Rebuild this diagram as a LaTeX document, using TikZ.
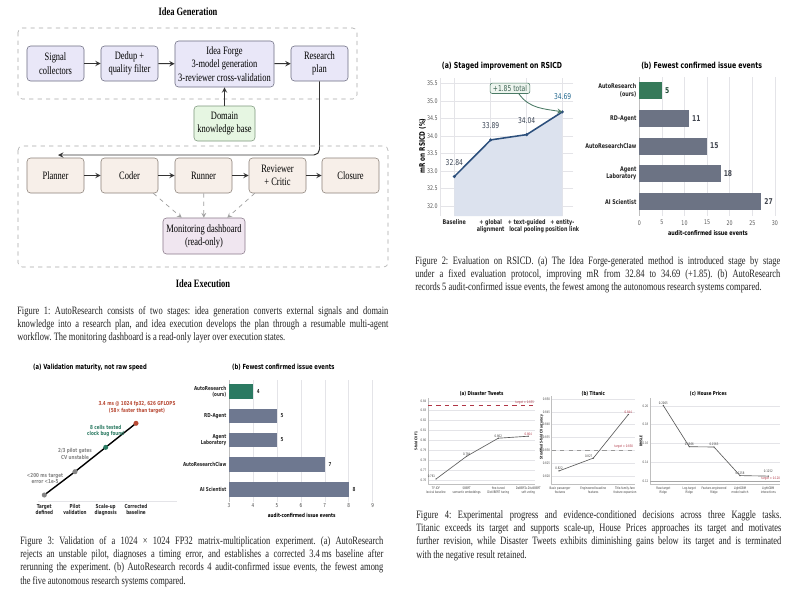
\documentclass[tikz,border=0pt]{standalone}
\usepackage{fontspec}
\setmainfont{Liberation Serif}
\newfontfamily\serifc[FakeStretch=0.75]{Liberation Serif}
\newfontfamily\sansc[FakeStretch=0.75]{DejaVu Sans}
\newcommand\nodefnt{\serifc\fontsize{8}{9.5}\selectfont}
\newcommand\headfnt{\serifc\bfseries\fontsize{8}{9.5}\selectfont}
\newcommand\capfnt{\serifc\fontsize{8}{9.5}\selectfont\frenchspacing}
\newcommand\ttlfnt{\sansc\bfseries\fontsize{5.9}{7}\selectfont}
\newcommand\ttlfntb{\sansc\bfseries\fontsize{5}{6}\selectfont}
\newcommand\ttlfntc{\sansc\bfseries\fontsize{3.8}{4.5}\selectfont}
\newcommand\tickfnt{\sansc\fontsize{4.5}{5.2}\selectfont}
\newcommand\labfnt{\sansc\bfseries\fontsize{4.6}{5.4}\selectfont}
\newcommand\valfnt{\sansc\fontsize{5.7}{6.5}\selectfont}
\newcommand\smlfnt{\sansc\bfseries\fontsize{3.9}{4.6}\selectfont}
\newcommand\tinyfnt{\sansc\fontsize{2.4}{2.9}\selectfont}
\newcommand\tinybfnt{\sansc\bfseries\fontsize{2.6}{3.1}\selectfont}
\definecolor{genfill}{HTML}{E9E7F8}
\definecolor{genedge}{HTML}{6E6E82}
\definecolor{kbfill}{HTML}{E6F6E2}
\definecolor{kbedge}{HTML}{7E987E}
\definecolor{exfill}{HTML}{F7EFE9}
\definecolor{exedge}{HTML}{8C827A}
\definecolor{monfill}{HTML}{F0E6F0}
\definecolor{monedge}{HTML}{8A7A8A}
\definecolor{stagegray}{HTML}{A8A8A8}
\definecolor{flowgray}{HTML}{333333}
\definecolor{gridgray}{HTML}{E4E4E8}
\definecolor{rsblue}{HTML}{2C4F7C}
\definecolor{rsfill}{HTML}{DCE2EE}
\definecolor{slate}{HTML}{3C4656}
\definecolor{annog}{HTML}{4A7A65}
\definecolor{annofill}{HTML}{EEF5EF}
\definecolor{barours}{HTML}{367A5A}
\definecolor{barrest}{HTML}{6C7384}
\definecolor{oursb}{HTML}{2B7A62}
\definecolor{restb}{HTML}{6E7890}
\definecolor{stepgray}{HTML}{858585}
\definecolor{stepred}{HTML}{B84A35}
\definecolor{tgtred}{HTML}{B03545}
\definecolor{capink}{HTML}{222222}
\begin{document}
\begin{tikzpicture}[x=0.025cm, y=-0.025cm, line join=round, >=stealth,
  gen/.style={draw=genedge, fill=genfill, rounded corners=2.5pt, align=center, inner sep=1pt,
    minimum width=1.425cm, minimum height=0.875cm, font=\nodefnt},
  kb/.style={gen, draw=kbedge, fill=kbfill, minimum width=1.525cm},
  exe/.style={gen, draw=exedge, fill=exfill},
  mon/.style={gen, draw=monedge, fill=monfill, minimum width=2.05cm, minimum height=0.9cm},
  stage/.style={draw=stagegray, dashed, rounded corners=3pt, line width=0.4pt},
  flow/.style={->, draw=flowgray, line width=0.7pt},
  watch/.style={->, draw=gray!75, dashed, line width=0.5pt},
  grid/.style={draw=gridgray, line width=0.4pt},
  figcap/.style={anchor=north west, inner sep=0pt, align=justify, font=\capfnt, text=capink},
  tick/.style={font=\tickfnt, text=black!65, inner sep=1.5pt},
  xlab/.style={font=\labfnt, align=center, anchor=north, inner sep=0pt, text=black!85},
  tick4/.style={font=\tinyfnt, text=black!70, inner sep=1pt},
  xlab4/.style={font=\tinyfnt, align=center, anchor=north, inner sep=0pt, text=black!75},
  val4/.style={font=\tinyfnt, text=black!75, inner sep=0.5pt},
  line4/.style={draw=black!65, line width=0.45pt},
  spine/.style={draw=black!25, line width=0.35pt}]
\useasboundingbox[fill=white] (0,0) rectangle (800,600);

\node[font=\headfnt] (gentitle) at (188,12) {Idea Generation};
\draw[stage] (18,28) rectangle (357,99);
\node[gen] (sig) at (55.5,63.5) {Signal\\collectors};
\node[gen] (ded) at (129.5,63.5) {Dedup +\\quality filter};
\node[gen, minimum width=2.475cm, minimum height=1.15cm] (forge) at (224.5,64) {Idea Forge\\3-model generation\\3-reviewer cross-validation};
\node[gen] (plan) at (319.5,63.5) {Research\\plan};
\node[kb] (kb) at (224.5,123.5) {Domain\\knowledge base};
\draw[flow] (sig) -- (ded);
\draw[flow] (ded) -- (forge);
\draw[flow] (forge) -- (plan);
\draw[flow] (kb) -- (forge);
\coordinate (back) at (58,155);
\draw[flow, rounded corners=4pt] (plan) |- (back);
\draw[stage] (18,146) rectangle (388,267);
\node[exe] (pla) at (55.5,175.5) {Planner};
\node[exe] (cod) at (129.5,175.5) {Coder};
\node[exe] (run) at (203.5,175.5) {Runner};
\node[exe] (rev) at (277.5,175.5) {Reviewer\\+ Critic};
\node[exe] (clo) at (350.5,175.5) {Closure};
\node[mon] (mon) at (204,236) {Monitoring dashboard\\(read-only)};
\draw[flow] (pla) -- (cod);
\draw[flow] (cod) -- (run);
\draw[flow] (run) -- (rev);
\draw[flow] (rev) -- (clo);
\draw[watch] ([xshift=-3.5pt]cod.south east) -- ([xshift=13.5pt]mon.north west);
\draw[watch] (run) -- (mon);
\draw[watch] ([xshift=4.3pt]rev.south west) -- ([xshift=-12.8pt]mon.north east);
\node[font=\headfnt] (exetitle) at (203,284) {Idea Execution};
\node[figcap, text width=9.275cm] (cap1) at (17,306) {Figure 1: AutoResearch consists of two stages: idea generation converts external signals and domain\linebreak knowledge into a research plan, and idea execution develops the plan through a resumable multi-agent\linebreak workflow. The monitoring dashboard is a read-only layer over execution states.};

\node[font=\ttlfnt] (t2a) at (502,66) {(a) Staged improvement on RSICD};
\foreach \v in {32.0,32.5,33.0,33.5,34.0,34.5,35.0,35.5}
  \draw[grid] (573,{101-(\v-35)*35}) -- (440,{101-(\v-35)*35}) node[tick, left] {\v};
\foreach \x in {440,454.3,490.7,526.7,562.3}
  \draw[grid] (\x,78) -- (\x,216);
\fill[rsfill] (454.3,216) -- (454.3,176.6) -- (490.7,139.9) -- (526.7,134.6) -- (562.3,111.9) -- (562.3,216) -- cycle;
\draw[rsblue, line width=1.1pt] (454.3,176.6) coordinate (p1) -- (490.7,139.9) coordinate (p2)
  -- (526.7,134.6) coordinate (p3) -- (562.3,111.9) coordinate (p4);
\foreach \p in {p1,p2,p3,p4} \fill[rsblue] (\p) circle (1.2pt);
\node[font=\valfnt, text=slate] (v1) at (454.3,162.7) {32.84};
\node[font=\valfnt, text=slate] (v2) at (490.7,126) {33.89};
\node[font=\valfnt, text=slate] (v3) at (526.7,121) {34.04};
\node[font=\valfnt, text=rsblue!85!cyan] (v4) at (562.7,96.7) {34.69};
\node[draw=annog, fill=annofill, rounded corners=1.5pt, font=\valfnt, text=annog!80!black,
  inner xsep=2pt, inner ysep=1.5pt] (tot) at (510,88.3) {+1.85 total};
\draw[->, annog, line width=0.6pt] ([xshift=-8pt]tot.south east) to[out=-55, in=170] (p4);
\node[font=\sansc\bfseries\fontsize{5.4}{6}\selectfont, rotate=90] (ylab2) at (422.5,146) {mR on RSICD (\%)};
\node[xlab] (x1) at (454.3,219) {Baseline};
\node[xlab] (x2) at (490.7,219) {+ global\\alignment};
\node[xlab] (x3) at (526.7,219) {+ text-guided\\local pooling};
\node[xlab] (x4) at (562.3,219) {+ entity-\\position link};

\node[font=\ttlfnt] (t2b) at (701.7,66) {(b) Fewest confirmed issue events};
\foreach \v in {0,5,...,30} {
  \draw[grid] ({639.3+4.52*\v},77) -- ({639.3+4.52*\v},216);
  \node[tick] at ({639.3+4.52*\v},222.7) {\v};
}
\draw[draw=black!25, line width=0.4pt] (639.3,77) -- (639.3,216);
\foreach \y/\v/\c/\t in {90.7/5/barours/{AutoResearch\\(ours)}, 118.7/11/barrest/RD-Agent,
    146/15/barrest/AutoResearchClaw, 173.3/18/barrest/{Agent\\Laboratory}, 201.7/27/barrest/AI Scientist} {
  \fill[\c] (639.3,{\y-8.5}) rectangle ({639.3+4.52*\v},{\y+8.5});
  \node[font=\valfnt\bfseries, text=\c!60!black, anchor=west, inner sep=2pt] at ({639.3+4.52*\v},\y) {\v};
  \node[font=\labfnt, align=right, anchor=east, inner sep=1pt, text=black!85] at (638,\y) {\t};
}
\node[font=\labfnt] (xl2b) at (708,232.7) {audit-confirmed issue events};
\node[figcap, text width=9.125cm] (cap2) at (415,256) {Figure 2: Evaluation on RSICD. (a) The Idea Forge-generated method is introduced stage by stage\linebreak under a fixed evaluation protocol, improving mR from 32.84 to 34.69 (+1.85). (b) AutoResearch\linebreak records 5 audit-confirmed issue events, the fewest among the autonomous research systems compared.};

\node[font=\ttlfntb] (t3a) at (90,367.3) {(a) Validation maturity, not raw speed};
\draw[grid] (38,501.7) -- (177,501.7);
\draw[black, line width=1pt] (44.3,495) coordinate (s1) -- (75,471.7) coordinate (s2)
  -- (105.7,447.3) coordinate (s3) -- (136,423.3) coordinate (s4);
\fill[stepgray] (s1) circle (1.8pt);
\fill[stepgray] (s2) circle (1.8pt);
\fill[oursb] (s3) circle (1.8pt);
\fill[stepred] (s4) circle (1.8pt);
\node[font=\smlfnt, text=stepgray, align=center] (n1) at (45,478.5) {<200 ms target\\error <1e-5};
\node[font=\smlfnt, text=stepgray, align=center] (n2) at (75,454) {2/3 pilot gates\\CV unstable};
\node[font=\smlfnt, text=oursb, align=center] (n3) at (105.7,430.8) {8 cells tested\\clock bug found};
\node[font=\smlfnt, text=stepred, align=center] (n4) at (137,407.5) {3.4 ms @ 1024 fp32, 626 GFLOPS\\(58× faster than target)};
\node[xlab, font=\smlfnt] (a1) at (44.3,504) {Target\\defined};
\node[xlab, font=\smlfnt] (a2) at (75,504) {Pilot\\validation};
\node[xlab, font=\smlfnt] (a3) at (105.7,504) {Scale-up\\diagnosis};
\node[xlab, font=\smlfnt] (a4) at (136,504) {Corrected\\baseline};

\node[font=\ttlfntb] (t3b) at (283.3,367.3) {(b) Fewest confirmed issue events};
\foreach \v in {3,...,9} {
  \draw[grid] ({229+23.95*(\v-3)},380) -- ({229+23.95*(\v-3)},501.7);
  \node[font=\smlfnt\mdseries, text=black!70] at ({229+23.95*(\v-3)},505.5) {\v};
}
\draw[draw=black!25, line width=0.4pt] (229,380) -- (229,501.7);
\foreach \y/\v/\c/\t in {391.7/4/oursb/{AutoResearch\\(ours)}, 416/5/restb/RD-Agent,
    440/5/restb/{Agent\\Laboratory}, 464.7/7/restb/AutoResearchClaw, 489.3/8/restb/AI Scientist} {
  \fill[\c] (229,{\y-7.3}) rectangle ({229+23.95*(\v-3)},{\y+7.3});
  \node[font=\smlfnt, anchor=west, inner sep=2.5pt, text=black!80] at ({229+23.95*(\v-3)},\y) {\v};
  \node[font=\smlfnt, align=right, anchor=east, inner sep=1pt, text=black!85] at (228,\y) {\t};
}
\node[font=\smlfnt] (xl3b) at (301.7,515) {audit-confirmed issue events};
\node[figcap, text width=9.075cm] (cap3) at (20,536) {Figure 3: Validation of a 1024 × 1024 FP32 matrix-multiplication experiment. (a) AutoResearch\linebreak rejects an unstable pilot, diagnoses a timing error, and establishes a corrected 3.4\,ms baseline after\linebreak rerunning the experiment. (b) AutoResearch records 4 audit-confirmed issue events, the fewest among\linebreak the five autonomous research systems compared.};

\node[font=\ttlfntc] (t4a) at (481.7,394.3) {(a) Disaster Tweets};
\foreach \v in {0.76,0.77,0.78,0.79,0.80,0.81,0.82,0.83,0.84} {
  \draw[grid] (428,{480-(\v-0.76)*990}) -- (535,{480-(\v-0.76)*990});
  \node[tick4, anchor=east] at (428,{480-(\v-0.76)*990}) {\v};
}
\draw[spine] (428,398) -- (428,484) -- (535,484);
\draw[tgtred, dashed, line width=0.35pt] (428,405.7) -- (535,405.7);
\node[font=\tinyfnt, text=tgtred, anchor=east, inner sep=0.5pt] (g4a) at (535,402.3) {target = 0.835};
\draw[line4] (436,479) coordinate (d1) -- (466.7,456.2) coordinate (d2) -- (498.3,438.2) coordinate (d3) -- (528.3,436.2) coordinate (d4);
\foreach \p in {d1,d2,d3,d4} \fill[black!65] (\p) circle (0.5pt);
\node[val4, above left] at (d1) {0.761};
\node[val4, above] at (d2) {0.784};
\node[val4, above] at (d3) {0.802};
\node[val4, above, text=tgtred] at (d4) {0.804};
\node[font=\tinybfnt, rotate=90] (y4a) at (416,441) {5-fold CV F1};
\node[xlab4] at (436,487) {TF-IDF\\lexical baseline};
\node[xlab4] at (466.7,487) {SBERT\\semantic embeddings};
\node[xlab4] at (498.3,487) {fine-tuned\\DistilBERT tuning};
\node[xlab4] at (528.3,487) {DeBERTa-DistilBERT\\soft voting};

\node[font=\ttlfntc] (t4b) at (593.3,394.3) {(b) Titanic};
\foreach \v in {0.820,0.825,0.830,0.835,0.840,0.845,0.850} {
  \draw[grid] (551.7,{476-(\v-0.82)*2567}) -- (635,{476-(\v-0.82)*2567});
  \node[tick4, anchor=east] at (551.7,{476-(\v-0.82)*2567}) {\v};
}
\draw[spine] (551.7,396) -- (551.7,484) -- (635,484);
\draw[black!40, dashed, line width=0.35pt] (551.7,450.3) -- (635,450.3);
\node[font=\tinyfnt, text=tgtred, anchor=east, inner sep=0.5pt] (g4b) at (634,446.8) {target = 0.830};
\draw[line4] (559,470.9) coordinate (e1) -- (593.3,458.1) coordinate (e2) -- (628.3,414.5) coordinate (e3);
\foreach \p in {e1,e2,e3} \fill[black!65] (\p) circle (0.5pt);
\node[val4, above] at (e1) {0.822};
\node[val4, above left] at (e2) {0.827};
\node[val4, above, text=tgtred] at (e3) {0.844};
\node[font=\tinybfnt, rotate=90] (y4b) at (541.5,437) {Stratified 5-fold CV accuracy};
\node[xlab4] at (560,487) {Basic passenger\\features};
\node[xlab4] at (593.3,487) {Engineered baseline\\features};
\node[xlab4] at (625,487) {Title-family-fare\\feature expansion};

\node[font=\ttlfntc] (t4c) at (708.3,394.3) {(c) House Prices};
\foreach \v in {0.12,0.14,0.16,0.18,0.20} {
  \draw[grid] (650,{481-(\v-0.12)*937.5}) -- (780,{481-(\v-0.12)*937.5});
  \node[tick4, anchor=east] at (650,{481-(\v-0.12)*937.5}) {\v};
}
\draw[spine] (650,398) -- (650,484) -- (780,484);
\draw[black!35, line width=0.35pt] (650,481) -- (780,481);
\node[font=\tinyfnt, text=tgtred, anchor=east, inner sep=0.5pt] (g4c) at (781,478.4) {target = 0.120};
\draw[line4] (663.3,405.5) coordinate (h1) -- (689.3,446.7) coordinate (h2) -- (714,447) coordinate (h3)
  -- (740,475.6) coordinate (h4) -- (768.3,476.1) coordinate (h5);
\foreach \p in {h1,h2,h3,h4,h5} \fill[black!65] (\p) circle (0.5pt);
\node[val4, above] at (h1) {0.2005};
\node[val4, above] at (h2) {0.1566};
\node[val4, above] at (h3) {0.1563};
\node[val4, above] at (h4) {0.1258};
\node[val4, above] at ([yshift=1.5pt]h5) {0.1252};
\node[font=\tinybfnt, rotate=90] (y4c) at (641,441) {RMSLE};
\node[xlab4] at (663.3,487) {Raw-target\\Ridge};
\node[xlab4] at (689.3,487) {Log-target\\Ridge};
\node[xlab4] at (714,487) {Feature-engineered\\Ridge};
\node[xlab4] at (740,487) {LightGBM\\model switch};
\node[xlab4] at (768.3,487) {LightGBM\\interactions};
\node[figcap, text width=9.125cm] (cap4) at (416,510) {Figure 4: Experimental progress and evidence-conditioned decisions across three Kaggle tasks.\linebreak Titanic exceeds its target and supports scale-up, House Prices approaches its target and motivates\linebreak further revision, while Disaster Tweets exhibits diminishing gains below its target and is terminated\linebreak with the negative result retained.};
\end{tikzpicture}
\end{document}
